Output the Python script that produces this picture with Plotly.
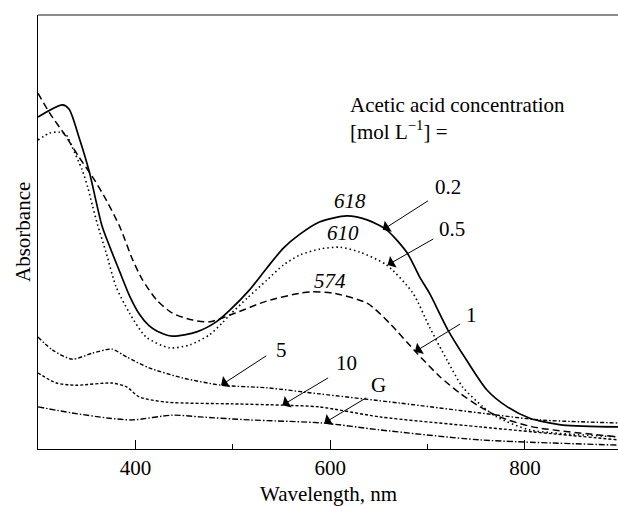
import plotly.graph_objects as go

# ---- data ----
wl_02 = [300, 325, 332, 342, 353, 360, 366, 384, 394, 404, 414, 422, 438, 463, 483, 497, 517, 535, 552, 569, 589, 617, 638, 658, 679, 692, 702, 721, 740, 761, 782, 805, 839, 896]
ab_02 = [0.765, 0.793, 0.783, 0.719, 0.636, 0.567, 0.512, 0.408, 0.353, 0.311, 0.284, 0.272, 0.260, 0.270, 0.293, 0.320, 0.366, 0.417, 0.463, 0.495, 0.523, 0.537, 0.528, 0.505, 0.452, 0.396, 0.359, 0.274, 0.205, 0.136, 0.097, 0.071, 0.055, 0.051]

wl_05 = [300, 312, 322, 329, 335, 345, 351, 356, 361, 370, 380, 394, 411, 435, 456, 476, 489, 497, 515, 535, 552, 569, 590, 610, 630, 658, 685, 702, 720, 736, 757, 771, 805, 896]
ab_05 = [0.712, 0.728, 0.730, 0.724, 0.696, 0.645, 0.604, 0.560, 0.518, 0.452, 0.375, 0.313, 0.258, 0.233, 0.240, 0.263, 0.290, 0.309, 0.348, 0.389, 0.424, 0.447, 0.461, 0.465, 0.454, 0.424, 0.359, 0.281, 0.205, 0.143, 0.097, 0.074, 0.044, 0.028]

wl_1 = [300, 312, 329, 342, 356, 370, 384, 397, 407, 422, 438, 459, 476, 500, 535, 569, 580, 603, 638, 661, 689, 713, 733, 754, 774, 808, 895]
ab_1 = [0.820, 0.774, 0.719, 0.673, 0.627, 0.574, 0.512, 0.437, 0.391, 0.343, 0.313, 0.297, 0.293, 0.311, 0.341, 0.359, 0.362, 0.359, 0.336, 0.290, 0.221, 0.166, 0.129, 0.097, 0.074, 0.051, 0.028]

wl_5 = [300, 315, 335, 356, 376, 391, 414, 448, 488, 535, 589, 671, 754, 815, 896]
ab_5 = [0.258, 0.228, 0.207, 0.221, 0.230, 0.212, 0.187, 0.164, 0.147, 0.141, 0.127, 0.106, 0.083, 0.067, 0.060]

wl_10 = [300, 319, 339, 376, 391, 404, 432, 500, 551, 589, 651, 754, 896]
ab_10 = [0.175, 0.152, 0.147, 0.152, 0.143, 0.120, 0.108, 0.104, 0.101, 0.097, 0.074, 0.051, 0.021]

wl_G = [300, 335, 373, 397, 438, 466, 517, 592, 651, 754, 896]
ab_G = [0.097, 0.083, 0.071, 0.067, 0.078, 0.074, 0.067, 0.060, 0.044, 0.021, 0.009]

x_tickvals = [400, 600, 800]
x_ticktext = ["400", "600", "800"]
x_minor_ticks = [500, 700]

FONT = "Liberation Serif"
FS = 21

fig = go.Figure()

series = [
    (wl_02, ab_02, dict(color="black", width=1.7, dash="solid")),
    (wl_05, ab_05, dict(color="black", width=1.6, dash="1.5px,3px")),
    (wl_1, ab_1, dict(color="black", width=1.5, dash="7px,4px")),
    (wl_5, ab_5, dict(color="black", width=1.4, dash="4px,2px,1.5px,2px")),
    (wl_10, ab_10, dict(color="black", width=1.4, dash="3px,2px")),
    (wl_G, ab_G, dict(color="black", width=1.4, dash="6px,2px,1.5px,2px")),
]
for xs, ys, ln in series:
    fig.add_trace(go.Scatter(x=xs, y=ys, mode="lines", line=dict(shape="spline", smoothing=0.7, **ln),
                             showlegend=False, hoverinfo="skip"))

ann = []
# header text
ann.append(dict(x=618, y=0.793, xref="x", yref="y", text="Acetic acid concentration",
                showarrow=False, xanchor="left", yanchor="middle"))
ann.append(dict(x=618, y=0.735, xref="x", yref="y", text="[mol L<sup>−1</sup>] =",
                showarrow=False, xanchor="left", yanchor="middle"))
# peak labels (italic)
for txt, px, py in [("618", 620, 0.571), ("610", 613, 0.498), ("574", 599.5, 0.387)]:
    ann.append(dict(x=px, y=py, xref="x", yref="y", text="<i>" + txt + "</i>", showarrow=False))
# concentration labels with arrows
labels = [
    ("0.2", (721, 0.604), (702, 0.574), (654, 0.505)),
    ("0.5", (725, 0.507), (707.5, 0.486), (659, 0.424)),
    ("1", (745.5, 0.309), (735, 0.290), (687, 0.224)),
    ("5", (550, 0.228), (536, 0.217), (488, 0.147)),
    ("10", (617, 0.198), (599.5, 0.166), (551, 0.101)),
    ("G", (650, 0.147), (638.6, 0.120), (594, 0.060)),
]
for txt, tpos, tail, tip in labels:
    ann.append(dict(x=tpos[0], y=tpos[1], xref="x", yref="y", text=txt, showarrow=False))
    ann.append(dict(x=tip[0], y=tip[1], xref="x", yref="y", ax=tail[0], ay=tail[1],
                    axref="x", ayref="y", text="", showarrow=True, arrowhead=1,
                    arrowsize=2.2, arrowwidth=1, arrowcolor="black", standoff=0, startstandoff=0))
# axis titles
ann.append(dict(x=0.5, y=-0.104, xref="paper", yref="paper", text="Wavelength, nm",
                showarrow=False, xanchor="center", yanchor="middle"))
ann.append(dict(x=-0.0259, y=0.5, xref="paper", yref="paper", text="Absorbance",
                showarrow=False, textangle=-90, xanchor="center", yanchor="middle"))

fig.update_layout(
    width=618, height=506,
    margin=dict(l=38, r=0, t=15, b=57),
    paper_bgcolor="white", plot_bgcolor="white",
    font=dict(family=FONT, size=FS, color="black"),
    annotations=ann,
    shapes=[dict(type="line", xref="paper", yref="paper", x0=0, x1=1, y0=1, y1=1,
                 line=dict(color="#666666", width=1.5))],
    xaxis=dict(range=[300, 895.6], showgrid=False, zeroline=False, showline=True,
               linecolor="black", linewidth=1.2, ticks="inside", ticklen=9, tickwidth=1,
               tickcolor="black", tickvals=x_tickvals, ticktext=x_ticktext,
               tickfont=dict(family=FONT, size=FS), automargin=False,
               minor=dict(tickvals=x_minor_ticks, ticks="inside", ticklen=5, tickwidth=1, tickcolor="black")),
    yaxis=dict(range=[0, 1], showgrid=False, zeroline=False, showline=True,
               linecolor="black", linewidth=1.2, ticks="", showticklabels=False, automargin=False),
)

fig.write_html("out.html")
